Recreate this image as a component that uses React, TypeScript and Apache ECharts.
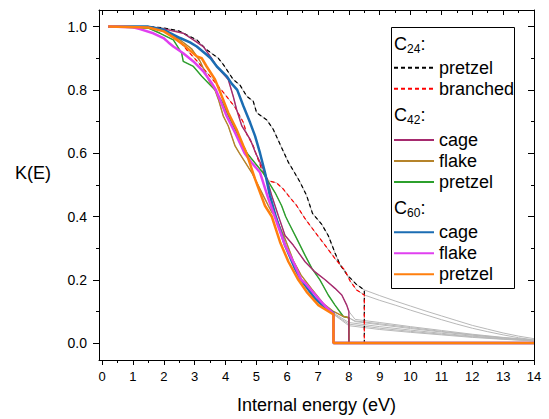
import React, { useEffect, useRef } from "react";
import * as echarts from "echarts";

type Pt = [number, number];

const FONT = 'Arial, "Liberation Sans", Helvetica, sans-serif';

// ---------- data ----------
const c24Pretzel: Pt[] = [
  [0.2, 1], [1.5, 1], [2.0, 0.996], [2.5, 0.986], [2.74, 0.974], [3.07, 0.958], [3.39, 0.927],
  [3.77, 0.9], [3.93, 0.88], [4.25, 0.833], [4.47, 0.815], [4.69, 0.78], [4.9, 0.764], [5.01, 0.728],
  [5.34, 0.705], [5.55, 0.675], [5.77, 0.628], [6.04, 0.571], [6.2, 0.545], [6.42, 0.508], [6.63, 0.466],
  [6.82, 0.41], [7.12, 0.375], [7.33, 0.34], [7.55, 0.285], [7.71, 0.248], [7.95, 0.215], [8.25, 0.185],
  [8.5, 0.168],
];
const c24PretzelTail: Pt[] = [
  [8.5, 0.168], [9, 0.15], [9.5, 0.133], [10, 0.117], [10.5, 0.101], [11, 0.086], [11.5, 0.071],
  [12, 0.056], [12.5, 0.044], [13, 0.032], [13.5, 0.022], [14, 0.014],
];

const c24Branched: Pt[] = [
  [0.2, 1], [1.5, 0.998], [2.0, 0.99], [2.53, 0.953], [2.74, 0.927], [3.1, 0.889], [3.5, 0.843],
  [3.99, 0.785], [4.31, 0.745], [4.58, 0.697], [4.69, 0.66], [4.9, 0.623], [5.17, 0.55], [5.39, 0.513],
  [5.66, 0.506], [5.87, 0.487], [6.04, 0.466], [6.31, 0.434], [6.58, 0.393], [6.9, 0.351], [7.23, 0.309],
  [7.55, 0.267], [7.87, 0.23], [8.04, 0.196], [8.25, 0.168], [8.5, 0.152],
];
const c24BranchedTail: Pt[] = [
  [8.5, 0.152], [9, 0.135], [9.5, 0.12], [10, 0.104], [10.5, 0.089], [11, 0.074], [11.5, 0.06],
  [12, 0.047], [12.5, 0.036], [13, 0.026], [13.5, 0.017], [14, 0.01],
];

const c42Cage: Pt[] = [
  [0.2, 1], [1.5, 1], [2.0, 0.993], [2.63, 0.979], [2.96, 0.958], [3.28, 0.937], [3.55, 0.9],
  [3.72, 0.874], [4.09, 0.833], [4.25, 0.78], [4.36, 0.738], [4.53, 0.686], [4.8, 0.644], [4.98, 0.6],
  [5.28, 0.539], [5.5, 0.466], [5.71, 0.403], [5.93, 0.34], [6.2, 0.309], [6.58, 0.257], [6.9, 0.225],
  [7.23, 0.2], [7.55, 0.173], [7.77, 0.152], [7.93, 0.12], [8.0, 0.1],
];
const c42CageTail: Pt[] = [
  [8.0, 0.1], [8.2, 0.075], [9, 0.065], [10, 0.052], [11, 0.04], [12, 0.028], [13, 0.018], [14, 0.01],
];

const c42Flake: Pt[] = [
  [0.2, 1], [1.5, 0.998], [2.0, 0.99], [2.5, 0.96], [2.9, 0.93], [3.18, 0.89], [3.5, 0.822],
  [3.66, 0.8], [3.77, 0.77], [3.93, 0.717], [4.09, 0.686], [4.31, 0.623], [4.45, 0.6], [4.85, 0.539],
  [5.17, 0.477], [5.39, 0.434], [5.5, 0.414], [5.62, 0.4], [5.93, 0.33], [6.2, 0.26], [6.45, 0.215],
  [6.8, 0.17], [7.17, 0.125], [7.5, 0.1], [7.8, 0.085], [8.0, 0.08],
];
const c42FlakeTail: Pt[] = [
  [8.0, 0.08], [8.2, 0.068], [9, 0.058], [10, 0.046], [11, 0.035], [12, 0.025], [13, 0.016], [14, 0.009],
];

const c42Pretzel: Pt[] = [
  [0.2, 1], [1.5, 0.995], [1.88, 0.979], [2.31, 0.958], [2.58, 0.916], [2.63, 0.89], [2.96, 0.874],
  [3.23, 0.843], [3.55, 0.811], [3.66, 0.8], [3.88, 0.764], [4.15, 0.707], [4.36, 0.665], [4.58, 0.623],
  [4.7, 0.6], [4.95, 0.57], [5.2, 0.54], [5.34, 0.518], [5.61, 0.475], [5.82, 0.434], [5.95, 0.4],
  [6.04, 0.382], [6.31, 0.33], [6.58, 0.277], [6.8, 0.236], [7.06, 0.2], [7.33, 0.152], [7.55, 0.12],
  [7.82, 0.084], [8.0, 0.08],
];
const c42PretzelTail: Pt[] = [
  [8.0, 0.08], [8.2, 0.07], [9, 0.061], [10, 0.049], [11, 0.037], [12, 0.026], [13, 0.017], [14, 0.009],
];

const c60Cage: Pt[] = [
  [0.2, 1], [1.5, 1], [2.0, 0.99], [2.53, 0.964], [2.85, 0.95], [3.07, 0.937], [3.39, 0.911],
  [3.52, 0.9], [3.72, 0.874], [4.04, 0.843], [4.2, 0.82], [4.38, 0.8], [4.58, 0.749], [4.8, 0.696],
  [4.96, 0.654], [5.12, 0.6], [5.28, 0.539], [5.44, 0.466], [5.63, 0.4], [5.93, 0.309], [6.25, 0.236],
  [6.45, 0.2], [6.58, 0.183], [6.9, 0.141], [7.2, 0.115], [7.5, 0.095],
];
const c60CageTail: Pt[] = [
  [7.5, 0.095], [8, 0.065], [9, 0.052], [10, 0.041], [11, 0.031], [12, 0.022], [13, 0.014], [14, 0.008],
];

const c60Flake: Pt[] = [
  [0.2, 1], [1.0, 0.998], [1.23, 0.992], [1.66, 0.979], [1.99, 0.964], [2.15, 0.95], [2.31, 0.937],
  [2.63, 0.916], [2.96, 0.89], [3.28, 0.859], [3.55, 0.822], [3.69, 0.8], [3.82, 0.77], [4.04, 0.717],
  [4.31, 0.665], [4.62, 0.6], [4.85, 0.57], [5.12, 0.539], [5.39, 0.456], [5.66, 0.382], [5.93, 0.309],
  [6.25, 0.246], [6.45, 0.2], [6.58, 0.19], [7.01, 0.141], [7.25, 0.115], [7.5, 0.092],
];
const c60FlakeTail: Pt[] = [
  [7.5, 0.092], [8, 0.06], [9, 0.047], [10, 0.037], [11, 0.028], [12, 0.02], [13, 0.013], [14, 0.007],
];

const c60Pretzel: Pt[] = [
  [0.2, 1], [1.5, 0.997], [2.0, 0.985], [2.31, 0.966], [2.63, 0.943], [3.07, 0.906], [3.23, 0.9],
  [3.39, 0.874], [3.66, 0.833], [3.8, 0.8], [4.09, 0.728], [4.36, 0.675], [4.58, 0.623], [4.68, 0.6],
  [4.96, 0.518], [5.28, 0.434], [5.5, 0.4], [5.77, 0.319], [6.04, 0.257], [6.36, 0.2], [6.63, 0.162],
  [7.01, 0.12], [7.17, 0.11], [7.5, 0.091],
];
const c60PretzelTail: Pt[] = [
  [7.5, 0.091], [8, 0.055], [9, 0.043], [10, 0.034], [11, 0.026], [12, 0.018], [13, 0.012], [14, 0.007],
];

// axis extents and tick values
const xMin = -0.1;
const xMax = 14;
const yMin = -0.0534;
const yMax = 1.0525;
const xEnd = 14;
const xTicks = [0, 1, 2, 3, 4, 5, 6, 7, 8, 9, 10, 11, 12, 13, 14];
const xMinorTicks = [0.5, 1.5, 2.5, 3.5, 4.5, 5.5, 6.5, 7.5, 8.5, 9.5, 10.5, 11.5, 12.5, 13.5];
const yTicks = [0, 0.2, 0.4, 0.6, 0.8, 1.0];
const yMinorTicks = [0.1, 0.3, 0.5, 0.7, 0.9];

// ---------- series definitions ----------
type Curve = { name: string; data: Pt[]; tail: Pt[]; color: string; width: number; dashed?: boolean };

const curves: Curve[] = [
  { name: "C24 pretzel", data: c24Pretzel, tail: c24PretzelTail, color: "#000000", width: 1.2, dashed: true },
  { name: "C24 branched", data: c24Branched, tail: c24BranchedTail, color: "#ff0000", width: 1.2, dashed: true },
  { name: "C42 pretzel", data: c42Pretzel, tail: c42PretzelTail, color: "#2ca02c", width: 1.4 },
  { name: "C42 flake", data: c42Flake, tail: c42FlakeTail, color: "#b5832a", width: 1.4 },
  { name: "C42 cage", data: c42Cage, tail: c42CageTail, color: "#a62a6e", width: 1.4 },
  { name: "C60 cage", data: c60Cage, tail: c60CageTail, color: "#1b6db3", width: 2.5 },
  { name: "C60 flake", data: c60Flake, tail: c60FlakeTail, color: "#e040f0", width: 2.5 },
  { name: "C60 pretzel", data: c60Pretzel, tail: c60PretzelTail, color: "#ff7f0e", width: 2.5 },
];

function buildOption(): echarts.EChartsOption {
  const graySeries = curves.map((c, i) => ({
    name: "fit" + i,
    type: "line" as const,
    data: [...c.data, ...c.tail.slice(1)],
    symbol: "none",
    silent: true,
    z: 1,
    lineStyle: { color: "#b8b8b8", width: 1 },
  }));
  const mainSeries = curves.map((c) => {
    const last = c.data[c.data.length - 1];
    return {
      name: c.name,
      type: "line" as const,
      data: [...c.data, [last[0], 0], [xEnd, 0]],
      symbol: "none",
      z: 2,
      itemStyle: { color: c.color },
      lineStyle: { color: c.color, width: c.width, type: c.dashed ? [4, 3] : "solid" },
    };
  });

  const tickStyle = { color: "#000", width: 1 };
  const lineOn = { show: true, onZero: false, lineStyle: { color: "#000", width: 1 } };
  const lineOff = { show: false, onZero: false };

  const xAxisBase = { type: "value" as const, min: xMin, max: xMax, splitLine: { show: false }, minorTick: { show: false } };
  const yAxisBase = { type: "value" as const, min: yMin, max: yMax, splitLine: { show: false }, minorTick: { show: false } };

  const legendBase = {
    orient: "vertical" as const,
    left: 393,
    itemWidth: 40,
    itemHeight: 14,
    itemGap: 3,
    padding: 0,
    selectedMode: false,
    itemStyle: { opacity: 0 },
    formatter: (n: string) => n.split(" ")[1],
    textStyle: { fontSize: 18, color: "#000", fontFamily: FONT },
  };

  const header = (sub: string, y: number) => ({
    type: "group",
    x: 394,
    y,
    children: [
      { type: "text", x: 0, y: 0, style: { text: "C", fontSize: 18, fontFamily: FONT, fill: "#000", verticalAlign: "middle" } },
      { type: "text", x: 13, y: 5, style: { text: sub, fontSize: 12, fontFamily: FONT, fill: "#000", verticalAlign: "middle" } },
      { type: "text", x: 26.5, y: 0, style: { text: ":", fontSize: 18, fontFamily: FONT, fill: "#000", verticalAlign: "middle" } },
    ],
  });

  return {
    animation: false,
    backgroundColor: "#ffffff",
    grid: { left: 99, right: 15, top: 10, bottom: 57, show: false },
    xAxis: [
      {
        ...xAxisBase, position: "bottom",
        axisLine: lineOn,
        axisTick: { show: true, inside: false, length: 5, lineStyle: tickStyle, customValues: xTicks },
        axisLabel: { margin: 10, fontSize: 13, color: "#000", fontFamily: FONT, customValues: xTicks },
        name: "Internal energy (eV)",
        nameLocation: "middle",
        nameGap: 36,
        nameTextStyle: { fontSize: 18, color: "#000", fontFamily: FONT },
      },
      {
        ...xAxisBase, position: "bottom",
        axisLine: lineOff,
        axisTick: { show: true, inside: false, length: 3, lineStyle: tickStyle, customValues: xMinorTicks },
        axisLabel: { show: false },
      },
      {
        ...xAxisBase, position: "top",
        axisLine: lineOn,
        axisTick: { show: true, inside: true, length: 5, lineStyle: tickStyle, customValues: xTicks },
        axisLabel: { show: false },
      },
      {
        ...xAxisBase, position: "top",
        axisLine: lineOff,
        axisTick: { show: true, inside: true, length: 3, lineStyle: tickStyle, customValues: xMinorTicks },
        axisLabel: { show: false },
      },
    ],
    yAxis: [
      {
        ...yAxisBase, position: "left",
        axisLine: lineOn,
        axisTick: { show: true, inside: false, length: 6, lineStyle: tickStyle, customValues: yTicks },
        axisLabel: {
          margin: 12, fontSize: 14, color: "#000", fontFamily: FONT, customValues: yTicks,
          formatter: (v: number) => v.toFixed(1),
        },
      },
      {
        ...yAxisBase, position: "left",
        axisLine: lineOff,
        axisTick: { show: true, inside: false, length: 3, lineStyle: tickStyle, customValues: yMinorTicks },
        axisLabel: { show: false },
      },
      {
        ...yAxisBase, position: "right",
        axisLine: lineOn,
        axisTick: { show: true, inside: true, length: 6, lineStyle: tickStyle, customValues: yTicks },
        axisLabel: { show: false },
      },
      {
        ...yAxisBase, position: "right",
        axisLine: lineOff,
        axisTick: { show: true, inside: true, length: 3, lineStyle: tickStyle, customValues: yMinorTicks },
        axisLabel: { show: false },
      },
    ],
    legend: [
      { ...legendBase, top: 58.7, data: ["C24 pretzel", "C24 branched"] },
      { ...legendBase, top: 131, data: ["C42 cage", "C42 flake", "C42 pretzel"] },
      { ...legendBase, top: 223.3, data: ["C60 cage", "C60 flake", "C60 pretzel"] },
    ],
    graphic: [
      {
        type: "rect",
        shape: { x: 391.5, y: 27.5, width: 123, height: 261 },
        style: { fill: "#ffffff", stroke: "#000", lineWidth: 1 },
        z: 0,
      },
      header("24", 44),
      header("42", 115),
      header("60", 208),
      {
        type: "text",
        x: 15,
        y: 173,
        style: { text: "K(E)", fontSize: 18, fontFamily: FONT, fill: "#000", verticalAlign: "middle" },
      },
    ],
    series: [...graySeries, ...mainSeries],
  } as any;
}

export default function App() {
  const ref = useRef<HTMLDivElement>(null);
  useEffect(() => {
    if (!ref.current) return;
    const chart = echarts.init(ref.current, undefined, { renderer: "svg" });
    chart.setOption(buildOption());
    return () => chart.dispose();
  }, []);
  return (
    <div
      ref={ref}
      style={{ position: "fixed", left: 0, top: 0, width: 549, height: 419, background: "#fff" }}
    />
  );
}
